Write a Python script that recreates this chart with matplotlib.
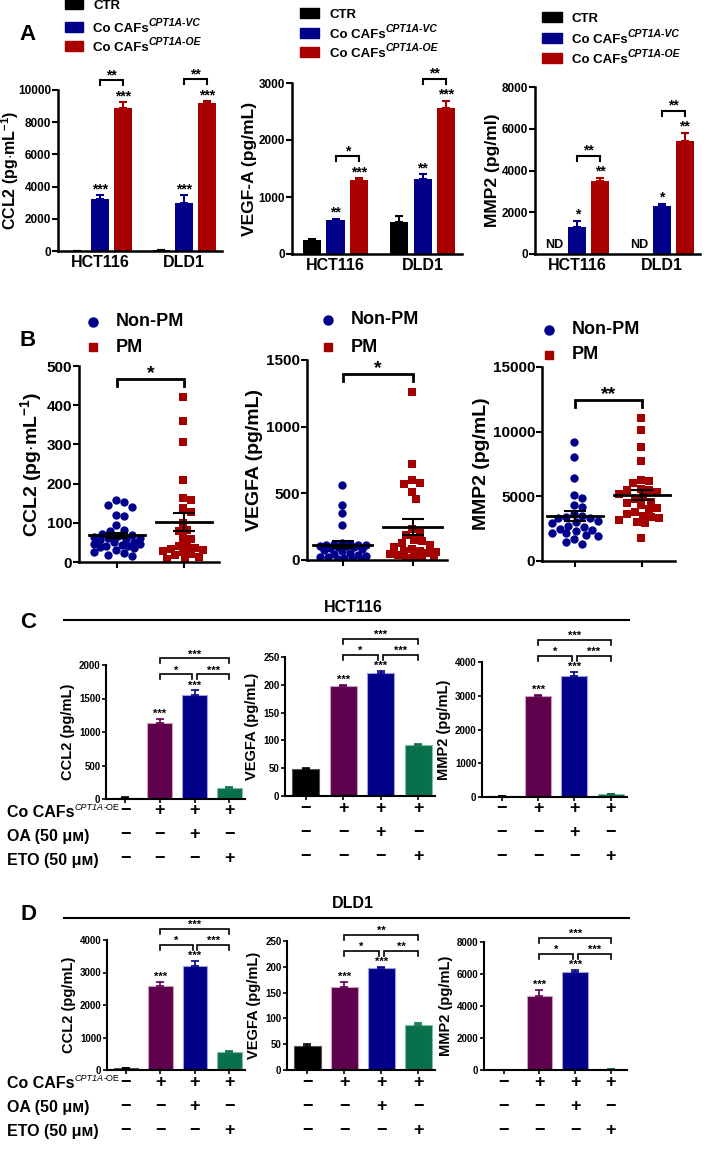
import numpy as np
import matplotlib
matplotlib.use("Agg")
import matplotlib.pyplot as plt
from matplotlib.patches import Rectangle
from matplotlib.lines import Line2D
from matplotlib.transforms import blended_transform_factory

W, H = 709, 1165
plt.rcParams['font.family'] = ['Liberation Sans', 'DejaVu Sans']
plt.rcParams['font.weight'] = 'bold'
plt.rcParams['axes.labelweight'] = 'bold'
plt.rcParams['mathtext.fontset'] = 'custom'
plt.rcParams['mathtext.rm'] = 'Liberation Sans:bold'
plt.rcParams['mathtext.it'] = 'Liberation Sans:italic:bold'
plt.rcParams['mathtext.bf'] = 'Liberation Sans:bold'

# ---- data: panel A (rows = HCT116, DLD1; cols = CTR, VC, OE) ----
cell_lines = ["HCT116", "DLD1"]
a_ccl2 = [[20, 3200, 8900], [50, 3000, 9200]]
a_ccl2_err = [[5, 250, 350], [10, 450, 100]]
a_ccl2_stars = [["", "***", "***"], ["", "***", "***"]]
a_ccl2_pair = ["**", "**"]

a_vegf = [[250, 600, 1300], [570, 1320, 2560]]
a_vegf_err = [[15, 15, 30], [100, 80, 130]]
a_vegf_stars = [["", "**", "***"], ["", "**", "***"]]
a_vegf_pair = ["*", "**"]

a_mmp2 = [[np.nan, 1300, 3500], [np.nan, 2300, 5400]]
a_mmp2_err = [[0, 300, 150], [0, 100, 400]]
a_mmp2_stars = [["", "*", "**"], ["", "*", "**"]]
a_mmp2_pair = ["**", "**"]

# ---- data: panel B ----
b_ccl2_nonpm = [145, 153, 158, 140, 120, 118, 94, 82, 78, 72, 70, 66, 64, 62, 60, 58,
                55, 52, 50, 47, 45, 44, 42, 40, 38, 35, 30, 26, 22, 18, 15]
b_ccl2_pm = [420, 360, 305, 210, 163, 158, 137, 128, 100, 82, 80, 61, 58, 42, 40, 35,
             32, 30, 28, 25, 20, 18, 12, 8, 5]
b_vegf_nonpm = [560, 410, 350, 260, 125, 120, 118, 115, 112, 110, 108, 105, 100, 95,
                90, 85, 75, 65, 55, 45, 40, 30, 25, 20, 15, 10, 5, 2]
b_vegf_pm = [1260, 720, 600, 577, 570, 510, 457, 230, 200, 185, 150, 140, 130, 110,
             100, 80, 70, 65, 60, 50, 45, 40, 30, 25, 15, 8]
b_mmp2_nonpm = [9200, 8050, 6450, 5100, 4870, 4350, 4200, 3400, 3300, 3600, 3500, 3300,
                3100, 3000, 2950, 2600, 2400, 2700, 2500, 2300, 2200, 2150, 2000, 1900,
                1700, 1500, 1300]
b_mmp2_pm = [11050, 10100, 8800, 7700, 6300, 6200, 6000, 5600, 5500, 5500, 5300, 5200,
             5000, 4800, 4600, 4500, 4300, 4100, 4000, 3800, 3600, 3500, 3400, 3300,
             3200, 3000, 2900, 1750]
b_stars = ["*", "*", "**"]

# ---- data: panels C and D (CTR, OE, OE+OA, OE+ETO) ----
c_ccl2 = [20, 1130, 1550, 170]
c_ccl2_err = [4, 60, 70, 15]
c_vegf = [48, 197, 222, 92]
c_vegf_err = [3, 3, 3, 2]
c_mmp2 = [20, 3000, 3600, 80]
c_mmp2_err = [5, 20, 100, 10]
c_pairs = [["*", "***", "***"], ["*", "***", "***"], ["*", "***", "***"]]

d_ccl2 = [60, 2600, 3200, 550]
d_ccl2_err = [10, 100, 150, 20]
d_vegf = [47, 160, 197, 88]
d_vegf_err = [3, 10, 3, 3]
d_mmp2 = [10, 4600, 6150, 50]
d_mmp2_err = [3, 400, 100, 10]
d_pairs = [["*", "***", "***"], ["*", "**", "**"], ["*", "***", "***"]]

co_row = ["\u2212", "+", "+", "+"]
oa_row = ["\u2212", "\u2212", "+", "\u2212"]
eto_row = ["\u2212", "\u2212", "\u2212", "+"]

ctr_col, vc_col, oe_col = "#000000", "#000088", "#a80000"
cd_cols = ["#000000", "#5e004c", "#000088", "#08704a"]
cd_edges = ["#555555", "#c9a0c0", "#a0a0e0", "#80c0a0"]

fig = plt.figure(figsize=(W / 100, H / 100), dpi=100)
renderer = fig.canvas.get_renderer()


def px_axes(x0, ytop, x1, ybot):
    return fig.add_axes([x0 / W, 1 - ybot / H, (x1 - x0) / W, (ybot - ytop) / H])


def fy(y):
    return 1 - y / H


def rich_text(x, y, parts):
    # parts: (text, fontsize, style, weight, raise_px); y is the baseline in pixels
    for txt, fs, st, wt, dy in parts:
        t = fig.text(x / W, fy(y - dy), txt, fontsize=fs, style=st, weight=wt,
                     ha="left", va="baseline")
        x = t.get_window_extent(renderer).x1


def clean(ax, lw=1.8):
    for s in ("top", "right"):
        ax.spines[s].set_visible(False)
    for s in ("left", "bottom"):
        ax.spines[s].set_linewidth(lw)


def px2data(ax, px):
    y0, y1 = ax.get_ylim()
    return px * (y1 - y0) / ax.get_window_extent().height


def bracket(ax, x1, x2, y, leg, label, fs, lw=1.5):
    ax.plot([x1, x1, x2, x2], [y - leg, y, y, y - leg], color="black", lw=lw,
            clip_on=False, solid_joinstyle="miter")
    ax.text((x1 + x2) / 2, y + px2data(ax, 1), label, ha="center", va="baseline",
            fontsize=fs, clip_on=False)


# ================= Panel A =================
def draw_a(rect, vals, errs, ymax, ystep, ylabel, stars, pair, label_x=None, label_fs=12.5):
    ax = px_axes(*rect)
    clean(ax)
    ax.set_xlim(-0.5, 1.45)
    ax.set_ylim(0, ymax)
    ax.set_yticks(np.arange(0, ymax + 1, ystep))
    offs = [-0.27, 0, 0.27]
    cols = [ctr_col, vc_col, oe_col]
    for g in range(2):
        for k in range(3):
            v = vals[g][k]
            x = g + offs[k]
            if np.isnan(v):
                ax.text(x, px2data(ax, 3), "ND", ha="center", va="bottom", fontsize=9)
                continue
            ax.bar(x, v, width=0.21, color=cols[k])
            ax.errorbar(x, v, yerr=[[0], [errs[g][k]]], fmt="none", ecolor=cols[k],
                        capsize=3, elinewidth=1.5, capthick=1.5)
            if stars[g][k]:
                ax.text(x, v + errs[g][k] + px2data(ax, 2), stars[g][k], ha="center",
                        va="baseline", fontsize=10)
        top = max(vals[g][2] + errs[g][2], vals[g][1] + errs[g][1])
        yb = top + px2data(ax, 22)
        bracket(ax, g, g + 0.27, yb, px2data(ax, 5), pair[g], 10)
    ax.set_xticks([0, 1])
    ax.set_xticklabels(cell_lines, fontsize=11.5)
    ax.tick_params(axis="x", length=0, pad=3)
    ax.tick_params(axis="y", length=4, width=1.5, labelsize=8.5, pad=1)
    ax.set_ylabel(ylabel, fontsize=label_fs, labelpad=1)
    if label_x is not None:
        ax.yaxis.set_label_coords((label_x - rect[0]) / (rect[2] - rect[0]), 0.5)
    return ax


draw_a((58, 90, 222, 251), a_ccl2, a_ccl2_err, 10000, 2000,
       r"CCL2 (pg$\cdot$mL$^{-1}$)", a_ccl2_stars, a_ccl2_pair, label_x=21, label_fs=11.5)
draw_a((292, 83, 462, 254), a_vegf, a_vegf_err, 3000, 1000,
       "VEGF-A (pg/mL)", a_vegf_stars, a_vegf_pair)
draw_a((535, 87, 700, 254), a_mmp2, a_mmp2_err, 8000, 2000,
       "MMP2 (pg/ml)", a_mmp2_stars, a_mmp2_pair)

for (px0, px1, rows, tx) in [(65, 83, (4, 27, 46), 93), (300, 319, (13, 33, 52), 330),
                             (542, 562, (17, 38, 58), 572)]:
    for col, row, tag in zip([ctr_col, vc_col, oe_col], rows, ["", "VC", "OE"]):
        fig.add_artist(Rectangle((px0 / W, fy(row + 5)), (px1 - px0) / W, 10 / H,
                                 transform=fig.transFigure, color=col))
        if not tag:
            rich_text(tx, row + 5, [("CTR", 9.5, "normal", "bold", 0)])
        else:
            rich_text(tx, row + 5, [("Co CAFs", 9.5, "normal", "bold", 0),
                                    ("CPT1A-" + tag, 7.5, "italic", "bold", 6)])

fig.text(28 / W, fy(35), "A", fontsize=16, ha="center", va="center")


# ================= Panel B =================
def swarm(ax, x0, vals, d, maxw):
    tr = ax.transData
    unit = tr.transform((1, 0))[0] - tr.transform((0, 0))[0]
    placed = []
    xs = np.zeros(len(vals))
    cands = sorted(np.arange(-maxw, maxw + 0.1, 2.0), key=lambda c: (abs(c), c))
    for i in np.argsort(vals)[::-1]:
        yd = tr.transform((x0, vals[i]))[1]
        best, best_score = 0.0, -1.0
        for xd in cands:
            dmin = min([np.hypot(xd - px, yd - py) for px, py in placed] or [1e9])
            if dmin >= d:
                best = xd
                break
            if dmin > best_score:
                best, best_score = xd, dmin
        placed.append((best, yd))
        xs[i] = x0 + best / unit
    return xs


def draw_b(rect, xlim, groups, ymax, ystep, ylabel, star):
    ax = px_axes(*rect)
    clean(ax)
    ax.set_xlim(*xlim)
    ax.set_ylim(0, ymax)
    ax.set_yticks(np.arange(0, ymax + 1, ystep))
    ax.set_xticks([0, 1])
    ax.set_xticklabels([])
    for gi, (vals, col, mk) in enumerate(zip(groups, ["#00008b", "#a50000"], ["o", "s"])):
        vals = np.array(vals, dtype=float)
        xs = swarm(ax, gi, vals, 8.0, 23)
        ax.scatter(xs, vals, s=36, marker=mk, color=col, zorder=2, linewidths=0)
        m = vals.mean()
        sem = vals.std(ddof=1) / np.sqrt(len(vals))
        ax.plot([gi - 0.42, gi + 0.42], [m, m], color="black", lw=2, zorder=3)
        ax.errorbar(gi, m, yerr=sem, fmt="none", ecolor="black", capsize=8,
                    elinewidth=1.5, capthick=1.5, zorder=3)
    top = max(max(g) for g in groups)
    bracket(ax, 0, 1, top + px2data(ax, 18), px2data(ax, 7), star, 14, lw=2)
    ax.tick_params(axis="y", length=4, width=1.5, labelsize=11, pad=1)
    ax.tick_params(axis="x", length=4, width=1.5)
    ax.set_ylabel(ylabel, fontsize=14, labelpad=2)
    return ax


draw_b((79, 366, 219, 562), (-0.57, 1.52), [b_ccl2_nonpm, b_ccl2_pm], 500, 100,
       r"CCL2 (pg$\cdot$mL$^{-1}$)", b_stars[0])
draw_b((307, 360, 447, 560), (-0.51, 1.49), [b_vegf_nonpm, b_vegf_pm], 1500, 500,
       "VEGFA (pg/mL)", b_stars[1])
draw_b((542, 367, 675, 561), (-0.49, 1.49), [b_mmp2_nonpm, b_mmp2_pm], 15000, 5000,
       "MMP2 (pg/mL)", b_stars[2])

for (mx, tx, y1, y2) in [(93, 116, 322, 347), (328, 351, 320, 347), (549, 572, 330, 355)]:
    fig.add_artist(Line2D([mx / W], [fy(y1)], marker="o", markersize=6.5, color="#00008b",
                          transform=fig.transFigure, linestyle="none"))
    fig.add_artist(Line2D([mx / W], [fy(y2)], marker="s", markersize=6, color="#a50000",
                          transform=fig.transFigure, linestyle="none"))
    fig.text(tx / W, fy(y1), "Non-PM", fontsize=13, ha="left", va="center")
    fig.text(tx / W, fy(y2), "PM", fontsize=13, ha="left", va="center")

fig.text(28 / W, fy(340), "B", fontsize=16, ha="center", va="center")


# ================= Panels C and D =================
def draw_cd(rect, vals, errs, ymax, ystep, ylabel, pairs, first):
    ax = px_axes(*rect)
    clean(ax, lw=1.5)
    ax.set_xlim(-0.55, 3.45)
    ax.set_ylim(0, ymax)
    ax.set_yticks(np.arange(0, ymax + 1, ystep))
    x = np.arange(4)
    ax.bar(x, vals, width=0.72, color=cd_cols, edgecolor=cd_edges, linewidth=0.8)
    for i in range(4):
        ax.errorbar(i, vals[i], yerr=[[0], [errs[i]]], fmt="none", ecolor=cd_cols[i],
                    capsize=3, elinewidth=1.2, capthick=1.2)
    for i in (1, 2):
        ax.text(i, vals[i] + errs[i] + px2data(ax, 2), "***", ha="center", va="baseline",
                fontsize=8)
    top = max(vals[1] + errs[1], vals[2] + errs[2])
    y_in = top + px2data(ax, 16)
    y_out = y_in + px2data(ax, 16)
    leg = px2data(ax, 5)
    bracket(ax, 1, 1.93, y_in, leg, pairs[0], 8, lw=1.2)
    bracket(ax, 2.07, 3, y_in, leg, pairs[1], 8, lw=1.2)
    bracket(ax, 1, 3, y_out, leg, pairs[2], 8, lw=1.2)
    ax.set_xticks(x)
    ax.set_xticklabels([])
    ax.tick_params(axis="x", length=3, width=1.2)
    ax.tick_params(axis="y", length=3, width=1.2, labelsize=7, pad=1)
    ax.set_ylabel(ylabel, fontsize=10.5, labelpad=3)
    bottom = rect[3]
    tr = blended_transform_factory(ax.transData, fig.transFigure)
    for row, off in zip([co_row, oa_row, eto_row], (12, 36, 60)):
        for i, s in enumerate(row):
            ax.text(i, fy(bottom + off), s, transform=tr, ha="center", va="center",
                    fontsize=13)
    if first:
        rich_text(7, bottom + 12 + 6, [("Co CAFs", 11.5, "normal", "bold", 0),
                                       ("CPT1A", 6.5, "italic", "normal", 7),
                                       ("-OE", 6.5, "normal", "normal", 7)])
        rich_text(7, bottom + 36 + 6, [("OA (50 \u03bc\u043c)", 11.5, "normal", "bold", 0)])
        rich_text(7, bottom + 60 + 6, [("ETO (50 \u03bc\u043c)", 11.5, "normal", "bold", 0)])
    return ax


draw_cd((106, 665, 245, 799), c_ccl2, c_ccl2_err, 2000, 500, "CCL2 (pg/mL)", c_pairs[0], True)
draw_cd((285, 657, 435, 796), c_vegf, c_vegf_err, 250, 50, "VEGFA (pg/mL)", c_pairs[1], False)
draw_cd((482, 662, 627, 797), c_mmp2, c_mmp2_err, 4000, 1000, "MMP2 (pg/mL)", c_pairs[2], False)

draw_cd((107, 940, 245, 1070), d_ccl2, d_ccl2_err, 4000, 1000, "CCL2 (pg/mL)", d_pairs[0], True)
draw_cd((287, 941, 435, 1070), d_vegf, d_vegf_err, 250, 50, "VEGFA (pg/mL)", d_pairs[1], False)
draw_cd((484, 942, 627, 1070), d_mmp2, d_mmp2_err, 8000, 2000, "MMP2 (pg/mL)", d_pairs[2], False)

for title, ty, ly, letter_y, letter in [("HCT116", 608, 620, 623, "C"), ("DLD1", 903, 918, 915, "D")]:
    fig.text(353 / W, fy(ty), title, fontsize=11.5, ha="center", va="center")
    fig.add_artist(Line2D([64 / W, 629 / W], [fy(ly), fy(ly)], color="black", lw=1.5,
                          transform=fig.transFigure))
    fig.text(28 / W, fy(letter_y), letter, fontsize=16, ha="center", va="center")

fig.savefig("out.png", dpi=100)
